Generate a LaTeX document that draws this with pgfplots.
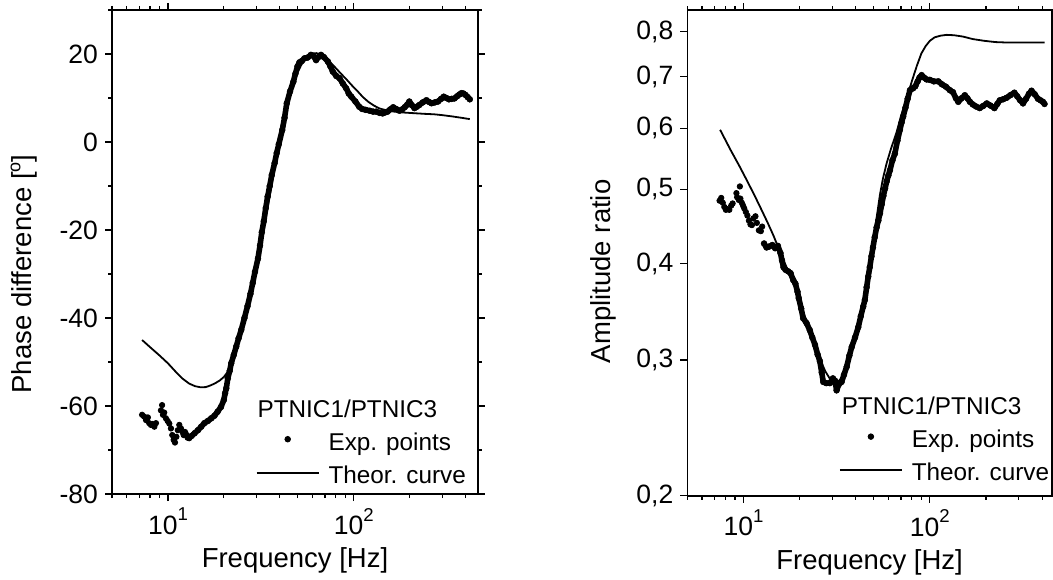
\documentclass[border=0pt]{standalone}
\usepackage{fontspec}
\setmainfont{Liberation Sans}
\usepackage{pgfplots}
\usepackage{pgfplotstable}
\pgfplotsset{compat=1.18}

\newcommand{\dec}[1]{10\raisebox{6.7pt}{\fontsize{9.3}{9.3}\selectfont #1}}

\pgfplotstableread{
f p
7.26 -62.0
7.45 -62.4
7.62 -63.2
7.80 -62.6
7.93 -63.9
8.10 -64.3
8.27 -64.1
8.45 -64.7
8.62 -63.9
9.17 -61.0
9.30 -59.8
9.40 -62.0
9.55 -61.5
9.75 -62.8
9.96 -63.4
10.17 -64.0
10.38 -65.1
10.55 -66.6
10.73 -67.7
10.91 -68.3
11.10 -67.0
11.30 -65.5
11.51 -64.3
11.75 -65.1
12.00 -66.0
12.15 -66.6
12.35 -65.9
12.51 -66.4
12.75 -67.2
}\phaseSparse

\pgfplotstableread{
f p
13.0 -67.3
13.4 -66.8
13.9 -66.2
14.5 -65.5
15.1 -64.7
15.7 -63.9
16.4 -63.4
17.1 -62.8
17.8 -62.2
18.5 -61.3
19.3 -60.2
20.0 -58.6
20.3 -57.1
20.6 -56.0
21.0 -53.7
21.5 -52.0
21.9 -50.3
22.6 -48.4
23.3 -46.5
24.0 -44.6
24.8 -42.7
25.8 -40.0
26.8 -37.3
27.8 -34.5
28.6 -32.0
29.4 -29.5
30.5 -26.5
31.3 -23.5
32.0 -20.5
32.8 -18.0
33.6 -15.0
34.4 -12.4
35.3 -10.0
36.2 -7.5
37.5 -4.8
38.5 -2.5
39.5 -0.5
41.2 2.7
42.4 5.5
43.6 8.8
45.4 11.5
47.3 13.7
48.5 15.5
49.8 17.2
51.0 18.1
52.5 18.4
54.2 19.0
56.5 19.2
58.8 19.8
60.5 19.6
62.7 18.6
64.5 19.3
66.6 19.8
69.0 19.3
72.5 18.3
74.8 17.2
77.1 16.0
80.5 15.0
83.8 14.5
87.3 13.3
91.0 12.2
94.0 11.0
97.0 10.3
102 9.2
107 8.0
111 7.5
116 7.3
122 7.1
127 6.9
132 6.9
138 6.6
143 6.5
147 6.7
152 6.9
157 7.4
163 7.9
169 7.5
176 7.1
182 7.4
188 7.9
194 8.5
199 9.2
205 8.4
212 7.7
218 8.0
225 8.4
235 9.0
246 9.5
254 9.1
262 8.8
273 9.0
284 9.2
295 9.8
305 10.3
315 10.0
325 9.7
336 9.8
348 9.9
360 10.4
370 10.8
380 11.1
390 11.0
399 10.7
410 10.2
421 9.7
}\phaseDense

\pgfplotstableread{
f p
7.26 -45.0
8.0 -46.6
9.0 -48.5
10.0 -50.3
11.0 -52.2
12.0 -53.8
13.0 -54.9
14.0 -55.5
15.0 -55.75
16.0 -55.7
17.0 -55.3
18.0 -54.8
19.0 -54.2
20.0 -53.4
21.0 -52.2
22.0 -50.2
23.0 -47.6
24.0 -44.8
25.0 -42.0
26.5 -38.2
28.0 -34.0
29.5 -29.6
31.0 -25.2
32.5 -20.6
34.0 -16.0
35.5 -11.6
37.0 -7.4
38.5 -3.4
40.0 0.3
42.0 4.6
44.0 8.3
46.0 11.4
48.0 13.9
50.0 15.9
52.0 17.4
54.5 18.8
57.0 19.6
60.0 20.1
63.0 20.2
66.0 19.9
69.0 19.4
72.0 18.8
76.0 17.8
80.0 16.8
85.0 15.6
91.0 14.3
98.0 12.8
105 11.5
112 10.2
120 9.1
128 8.3
138 7.6
150 7.2
165 6.9
185 6.7
210 6.55
240 6.4
270 6.3
300 6.1
340 5.8
380 5.5
421 5.2
}\phaseTheory

\pgfplotstableread{
f a
7.45 0.483
7.6 0.487
7.75 0.480
7.9 0.474
8.05 0.470
8.2 0.471
8.4 0.470
8.6 0.476
8.75 0.479
9.17 0.494
9.25 0.488
9.45 0.484
9.57 0.504
9.63 0.486
9.8 0.480
9.95 0.476
10.1 0.472
10.3 0.467
10.5 0.462
10.7 0.455
10.9 0.450
11.1 0.449
11.3 0.458
11.6 0.461
11.8 0.452
12.1 0.442
12.4 0.441
12.6 0.447
}\ampSparse

\pgfplotstableread{
f a
12.9 0.425
13.3 0.420
13.7 0.421
14.3 0.423
14.8 0.419
15.3 0.422
15.8 0.413
16.1 0.404
16.4 0.396
16.8 0.393
17.4 0.391
17.9 0.389
18.5 0.381
19.0 0.377
19.5 0.368
19.8 0.361
20.4 0.350
20.9 0.340
21.8 0.335
22.7 0.328
23.4 0.321
24.2 0.314
25.0 0.305
25.7 0.299
26.3 0.289
26.8 0.281
27.8 0.280
29.1 0.280
30.2 0.284
31.0 0.282
31.6 0.274
32.5 0.279
33.6 0.281
34.6 0.287
35.8 0.294
37.0 0.304
38.1 0.312
39.7 0.321
41.3 0.331
42.6 0.342
43.9 0.352
44.8 0.359
45.8 0.373
46.7 0.385
47.6 0.396
48.6 0.409
49.5 0.420
50.6 0.433
51.8 0.446
52.9 0.455
54.0 0.465
55.2 0.478
56.3 0.490
57.5 0.501
58.7 0.512
59.9 0.521
61.1 0.529
63.0 0.545
64.9 0.556
67.0 0.578
69.1 0.597
70.5 0.610
71.9 0.621
74.0 0.638
76.0 0.655
78.2 0.672
80.0 0.675
81.4 0.676
83.5 0.680
86.0 0.690
88.0 0.698
90.3 0.703
93.0 0.698
96.0 0.694
100 0.693
105 0.690
111 0.690
116 0.684
122 0.679
128 0.672
133 0.668
138 0.656
142 0.649
148 0.656
154 0.662
159 0.656
164 0.649
170 0.644
177 0.640
185 0.637
193 0.641
202 0.646
211 0.642
222 0.637
230 0.645
237 0.652
247 0.654
258 0.657
270 0.662
284 0.667
294 0.660
305 0.652
316 0.646
328 0.655
340 0.665
351 0.671
365 0.664
380 0.655
392 0.652
404 0.649
412 0.645
}\ampDense

\pgfplotstableread{
f a
7.5 0.597
8.5 0.563
9.5 0.536
10.4 0.514
11.5 0.490
12.5 0.470
13.5 0.452
14.5 0.435
15.5 0.418
16.5 0.403
17.5 0.390
18.5 0.378
19.5 0.365
20.5 0.352
21.5 0.340
22.5 0.329
23.5 0.319
24.5 0.310
26.0 0.299
27.5 0.290
29.0 0.284
30.5 0.281
32.0 0.281
33.5 0.284
35.0 0.290
36.5 0.298
38.0 0.308
40.0 0.322
42.0 0.339
44.0 0.358
46.0 0.382
48.0 0.408
50.0 0.435
52.0 0.462
54.0 0.492
56.0 0.516
58.6 0.540
62.0 0.565
66.2 0.592
70.0 0.622
75.0 0.655
80.0 0.690
85.0 0.722
90.0 0.750
95.0 0.767
100 0.779
106 0.787
114 0.791
123 0.793
135 0.792
150 0.789
170 0.783
195 0.779
225 0.776
260 0.775
300 0.775
350 0.775
413 0.775
}\ampTheory

\begin{document}
\begin{tikzpicture}
\useasboundingbox (0,0) rectangle (526.5pt,289.5pt);

\begin{axis}[
  scale only axis,
  xmode=log,
  at={(56pt,42.5pt)}, anchor=south west,
  width=183pt, height=242pt,
  xmin=5, xmax=466,
  ymin=-80, ymax=30,
  xtick={10,100},
  xticklabels={\dec{1},\dec{2}},
  minor xtick={5,6,7,8,9,20,30,40,50,60,70,80,90,200,300,400},
  ytick={-80,-60,-40,-20,0,20},
  yticklabels={-80,-60,-40,-20,0,20},
  minor ytick={-70,-50,-30,-10,10,30},
  tick align=outside,
  major tick length=3.5pt,
  minor tick length=2pt,
  tick style={black, line width=0.6pt},
  axis line style={line width=0.8pt},
  tick label style={font=\fontsize{13.25}{15}\selectfont},
  label style={font=\fontsize{13.75}{16}\selectfont},
  xlabel={Frequency [Hz]},
  ylabel={Phase difference [\raisebox{0.42em}{\fontsize{9}{9}\selectfont o}]},
  ylabel style={at={(axis description cs:-0.24,0.4545)}, anchor=center},
  xlabel style={at={(axis description cs:0.5,-0.151)}, anchor=base},
  legend cell align=left,
  legend style={draw=none, fill=none, inner sep=0pt, outer sep=0pt,
    row sep=0pt, column sep=4.5pt,
    nodes={inner sep=0pt, text height=13.5pt, text depth=3pt},
    font=\fontsize{12.15}{14}\selectfont, anchor=south east,
    at={(axis description cs:0.967,0.0097)}},
]
\addplot[black, line width=0.9pt, forget plot] table[x=f,y=p] {\phaseTheory};
\addplot[only marks, mark=*, mark size=1.35pt, black, forget plot] table[x=f,y=p] {\phaseSparse};
\addplot[black, line width=2.8pt, line join=round, line cap=round, mark=*, mark size=1.5pt, mark options={line width=0.2pt}, forget plot] table[x=f,y=p] {\phaseDense};
\addlegendimage{empty legend}
\addlegendentry{\hspace*{-35.5pt}PTNIC1/PTNIC3}
\addlegendimage{legend image code/.code={\fill[black] (15.5pt,0.3pt) circle (1.4pt);}}
\addlegendentry{Exp. points}
\addlegendimage{legend image code/.code={\draw[black, line width=0.9pt] (0pt,0pt) -- (31pt,0pt);}}
\addlegendentry{Theor. curve}
\end{axis}

\begin{axis}[
  scale only axis,
  xmode=log, ymode=log,
  at={(343.65pt,41.65pt)}, anchor=south west,
  width=182.35pt, height=242.85pt,
  xmin=5, xmax=452,
  ymin=0.2, ymax=0.854,
  xtick={10,100},
  xticklabels={\dec{1},\dec{2}},
  minor xtick={5,6,7,8,9,20,30,40,50,60,70,80,90,200,300,400},
  ytick={0.2,0.3,0.4,0.5,0.6,0.7,0.8},
  yticklabels={{0,2},{0,3},{0,4},{0,5},{0,6},{0,7},{0,8}},
  tick align=outside,
  major tick length=3.5pt,
  minor tick length=2pt,
  tick style={black, line width=0.6pt},
  axis line style={line width=0.8pt},
  tick label style={font=\fontsize{13.25}{15}\selectfont},
  label style={font=\fontsize{13.75}{16}\selectfont},
  xlabel={Frequency [Hz]},
  ylabel={Amplitude ratio},
  ylabel style={at={(axis description cs:-0.231,0.462)}, anchor=center},
  xlabel style={at={(axis description cs:0.5,-0.152)}, anchor=base},
  legend cell align=left,
  legend style={draw=none, fill=none, inner sep=0pt, outer sep=0pt,
    row sep=0pt, column sep=4.5pt,
    nodes={inner sep=0pt, text height=13.5pt, text depth=3pt},
    font=\fontsize{12.15}{14}\selectfont, anchor=south east,
    at={(axis description cs:0.992,0.0185)}},
]
\addplot[black, line width=0.9pt, forget plot] table[x=f,y=a] {\ampTheory};
\addplot[only marks, mark=*, mark size=1.35pt, black, forget plot] table[x=f,y=a] {\ampSparse};
\addplot[black, line width=2.8pt, line join=round, line cap=round, mark=*, mark size=1.5pt, mark options={line width=0.2pt}, forget plot] table[x=f,y=a] {\ampDense};
\addlegendimage{empty legend}
\addlegendentry{\hspace*{-35pt}PTNIC1/PTNIC3}
\addlegendimage{legend image code/.code={\fill[black] (15.5pt,0.3pt) circle (1.4pt);}}
\addlegendentry{Exp. points}
\addlegendimage{legend image code/.code={\draw[black, line width=0.9pt] (0pt,0pt) -- (31pt,0pt);}}
\addlegendentry{Theor. curve}
\end{axis}
\end{tikzpicture}
\end{document}
